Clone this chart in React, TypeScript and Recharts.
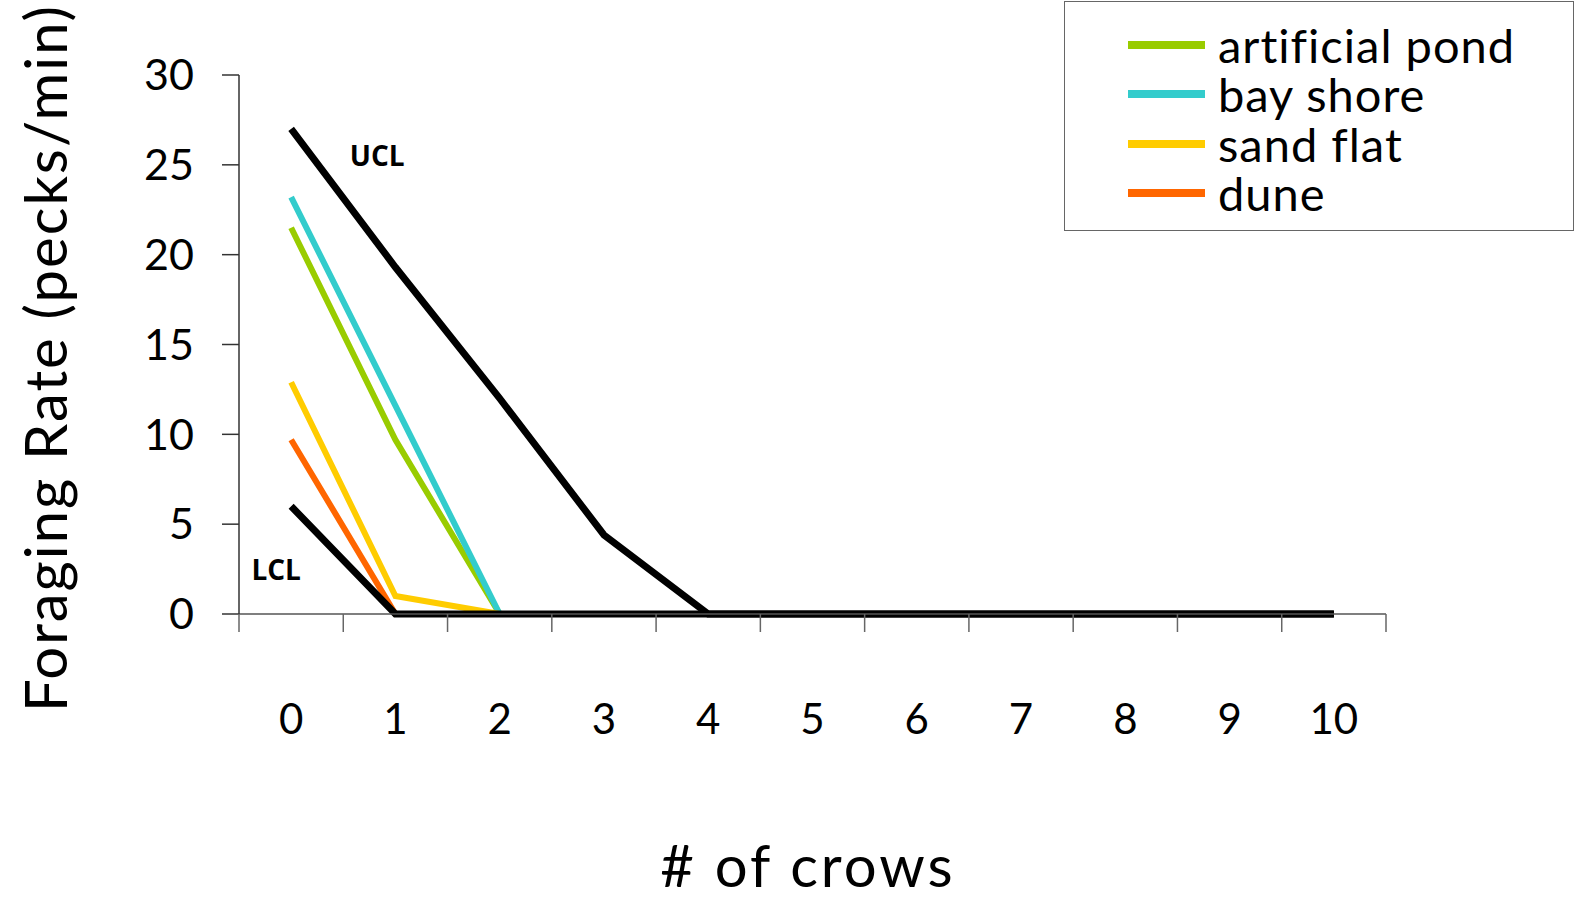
import { LineChart, Line, XAxis, YAxis, Legend, Label } from 'recharts';

const crows = [0, 1, 2, 3, 4, 5, 6, 7, 8, 9, 10];
const artificialPond = [21.5, 9.7, 0, 0, 0, 0, 0, 0, 0, 0, 0];
const bayShore = [23.2, 11.6, 0, 0, 0, 0, 0, 0, 0, 0, 0];
const sandFlat = [12.9, 1.0, 0, 0, 0, 0, 0, 0, 0, 0, 0];
const dune = [9.7, 0, 0, 0, 0, 0, 0, 0, 0, 0, 0];
const ucl = [27.0, 19.3, 12.0, 4.4, 0, 0, 0, 0, 0, 0, 0];
const lcl = [6.0, 0, 0, 0, 0, 0, 0, 0, 0, 0, 0];
const yTicks = [0, 5, 10, 15, 20, 25, 30];
// category boundaries get tick marks, centres get labels
const xTicks = [-0.5, 0, 0.5, 1, 1.5, 2, 2.5, 3, 3.5, 4, 4.5, 5, 5.5, 6, 6.5, 7, 7.5, 8, 8.5, 9, 9.5, 10, 10.5];

const series = [
  { key: 'pond', name: 'artificial pond', color: '#99CC00' },
  { key: 'bay', name: 'bay shore', color: '#33CCCC' },
  { key: 'sand', name: 'sand flat', color: '#FFCC00' },
  { key: 'dune', name: 'dune', color: '#FF6600' },
];

const data = crows.map((c, i) => ({
  crows: c,
  pond: artificialPond[i],
  bay: bayShore[i],
  sand: sandFlat[i],
  dune: dune[i],
  ucl: ucl[i],
  lcl: lcl[i],
}));

const FONT = 'Lato, "Open Sans", sans-serif';

function XTick(props: any) {
  const { x, y, payload } = props;
  const v = payload.value;
  if (Number.isInteger(v)) {
    return (
      <text x={x} y={y + 104} textAnchor="middle" dominantBaseline="central" fontSize={42} fontFamily={FONT} fill="#000">
        {v}
      </text>
    );
  }
  return <line x1={x} x2={x} y1={y} y2={y + 18} stroke="#666" strokeWidth={1.5} />;
}

function LegendBox() {
  return (
    <div
      style={{
        width: 510,
        height: 230,
        border: '1.5px solid #666',
        boxSizing: 'border-box',
        background: '#fff',
        paddingTop: 18,
        fontFamily: FONT,
      }}
    >
      {series.map((s) => (
        <div key={s.key} style={{ display: 'flex', alignItems: 'center', height: 49.5 }}>
          <div style={{ marginLeft: 63, width: 77, height: 8, background: s.color }} />
          <div
            style={{
              marginLeft: 13,
              fontSize: 47,
              height: 44,
              lineHeight: '44px',
              letterSpacing: 1,
              color: '#000',
              whiteSpace: 'nowrap',
            }}
          >
            {s.name}
          </div>
        </div>
      ))}
    </div>
  );
}

function limitLabel(text: string, dx: number, dy: number) {
  return (props: any) => {
    if (props.index !== 0) return null;
    return (
      <text x={props.x + dx} y={props.y + dy} textAnchor="middle" dominantBaseline="central" fontSize={28} fontWeight={700} fontFamily={'"Open Sans", sans-serif'} fill="#000">
        {text}
      </text>
    );
  };
}

export default function App() {
  return (
    <div style={{ position: 'absolute', left: 0, top: 0, width: 1579, height: 898, background: '#fff' }}>
      <LineChart width={1579} height={898} data={data} margin={{ top: 75, right: 193, bottom: 134, left: 0 }}>
        <XAxis
          dataKey="crows"
          type="number"
          domain={[-0.5, 10.5]}
          ticks={xTicks}
          interval={0}
          tickLine={false}
          tickSize={0}
          tickMargin={0}
          tick={<XTick />}
          axisLine={{ stroke: '#555', strokeWidth: 1.5 }}
          height={150}
        >
          <Label
            content={() => (
              <text x={808} y={864} textAnchor="middle" dominantBaseline="central" fontSize={58} letterSpacing={3} fontFamily={FONT} fill="#000">
                # of crows
              </text>
            )}
          />
        </XAxis>
        <YAxis
          type="number"
          domain={[0, 30]}
          ticks={yTicks}
          width={239}
          tickSize={17}
          tickMargin={28}
          tickLine={{ stroke: '#333', strokeWidth: 1.5 }}
          axisLine={{ stroke: '#333', strokeWidth: 1.5 }}
          tick={{ fontSize: 43, fontFamily: FONT, fill: '#000' }}
        >
          <Label
            content={() => (
              <text
                x={44}
                y={358}
                transform="rotate(-90 44 358)"
                textAnchor="middle"
                dominantBaseline="central"
                fontSize={58}
                letterSpacing={2}
                fontFamily={FONT}
                fill="#000"
              >
                Foraging Rate (pecks/min)
              </text>
            )}
          />
        </YAxis>
        <Legend
          layout="horizontal"
          align="center"
          verticalAlign="middle"
          content={<LegendBox />}
          wrapperStyle={{ top: 1, left: 1064, width: 512, height: 232 }}
        />
        {series.map((s) => (
          <Line
            key={s.key}
            dataKey={s.key}
            name={s.name}
            stroke={s.color}
            strokeWidth={6}
            dot={false}
            activeDot={false}
            strokeLinejoin="miter"
            isAnimationActive={false}
          />
        ))}
        <Line
          dataKey="ucl"
          name="UCL"
          stroke="#000"
          strokeWidth={7}
          dot={false}
          activeDot={false}
          legendType="none"
          isAnimationActive={false}
          label={limitLabel('UCL', 86, 26)}
        />
        <Line
          dataKey="lcl"
          name="LCL"
          stroke="#000"
          strokeWidth={7}
          dot={false}
          activeDot={false}
          legendType="none"
          isAnimationActive={false}
          label={limitLabel('LCL', -15, 63)}
        />
      </LineChart>
    </div>
  );
}
